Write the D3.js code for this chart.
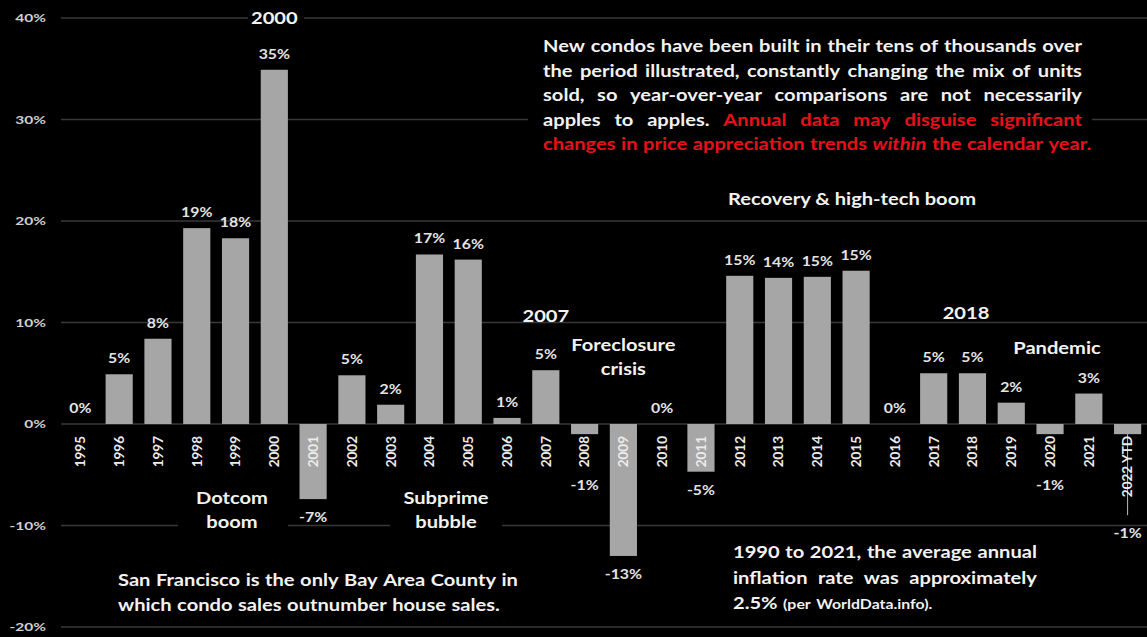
<!DOCTYPE html>
<html>
<head>
<meta charset="utf-8">
<script src="https://cdn.jsdelivr.net/npm/d3@7/dist/d3.min.js"></script>
<style>
  html, body { margin: 0; padding: 0; background: #000; }
  svg { display: block; }
  text { font-family: Lato, "Open Sans", sans-serif; font-weight: 700; }
</style>
</head>
<body>
<svg id="chart" width="1147" height="637"></svg>
<script>
// San Francisco condo median price, year-over-year change (%)
const years = ["1995","1996","1997","1998","1999","2000","2001","2002","2003","2004",
  "2005","2006","2007","2008","2009","2010","2011","2012","2013","2014","2015","2016",
  "2017","2018","2019","2020","2021","2022 YTD"];
const changes = [0, 4.9, 8.4, 19.3, 18.3, 34.9, -7.4, 4.8, 1.9, 16.7,
  16.2, 0.6, 5.3, -1.0, -13.0, 0, -4.7, 14.6, 14.4, 14.5, 15.1, 0,
  5.0, 5.0, 2.1, -1.0, 3.0, -1.0];
const yTicks = [-20, -10, 0, 10, 20, 30, 40];

const W = 1147, H = 637;
const SX = 1.22;   // horizontal stretch applied to the (wide) slide lettering
const svg = d3.select("#chart");
svg.append("rect").attr("width", W).attr("height", H).attr("fill", "#000");

const x = d3.scaleBand().domain(years).range([61, 1147])
  .paddingInner(0.3).paddingOuter(0.15);
const y = d3.scaleLinear().domain([-20, 40]).range([627, 18]);
const cx = d => x(d) + x.bandwidth() / 2;
const pct = v => { const r = Math.round(v); return (r === 0 ? 0 : r) + "%"; };

// gridlines
svg.append("g").selectAll("line").data(yTicks).join("line")
  .attr("x1", 61).attr("x2", W)
  .attr("y1", d => y(d)).attr("y2", d => y(d))
  .attr("stroke", "#383838").attr("stroke-width", 1.3);

// y axis labels
const yAxis = d3.axisLeft(y).tickValues(yTicks).tickFormat(d => d + "%").tickSize(0).tickPadding(0);
const ya = svg.append("g").attr("transform", "translate(46,0)").call(yAxis);
ya.select(".domain").remove();
ya.selectAll("text").attr("x", 0).attr("transform", "scale(1.35,1)")
  .attr("fill", "#d0d0d0").style("font-size", "11.5px")
  .style("font-family", "Lato, sans-serif").style("font-weight", 700);

// bars
const rows = years.map((yr, i) => ({ yr, v: changes[i] }));
svg.append("g").selectAll("rect").data(rows.filter(d => d.v !== 0)).join("rect")
  .attr("x", d => x(d.yr)).attr("width", x.bandwidth())
  .attr("y", d => y(Math.max(0, d.v)))
  .attr("height", d => Math.abs(y(d.v) - y(0)))
  .attr("fill", "#a6a6a6");

const leaderLayer = svg.append("g");

// category labels (rotated)
const xAxis = d3.axisBottom(x).tickSize(0).tickPadding(0);
const xa = svg.append("g").attr("transform", `translate(0,${y(0) + 12})`).call(xAxis);
xa.select(".domain").remove();
xa.selectAll("text")
  .attr("transform", "rotate(-90)")
  .attr("text-anchor", "end").attr("x", 0).attr("y", 0).attr("dy", "0.36em")
  .attr("fill", "#ececec").style("font-size", "13.5px")
  .style("font-family", "Lato, sans-serif").style("font-weight", 700);
const tickEnd = {};
xa.selectAll(".tick").each(function(d) {
  const t = d3.select(this).select("text").node();
  tickEnd[d] = y(0) + 12 + t.getComputedTextLength();
});

// leader line running through the YTD label
const last = years[years.length - 1];
tickEnd[last] += 18;
leaderLayer.append("line").attr("x1", cx(last)).attr("x2", cx(last))
  .attr("y1", y(-1.0)).attr("y2", tickEnd[last])
  .attr("stroke", "#bdbdbd").attr("stroke-width", 1);

// value labels
svg.append("g").selectAll("text").data(rows).join("text")
  .attr("transform", d => `translate(${cx(d.yr)},${d.v >= 0 ? y(d.v) - 11 : Math.max(y(d.v), tickEnd[d.yr]) + 23}) scale(${SX},1)`)
  .attr("text-anchor", "middle").attr("fill", "#e4e4e4").style("font-size", "13px")
  .text(d => pct(d.v));

// annotation text helpers
function block(lines, x0, x1, y0, lh, size, justify) {
  const g = svg.append("g");
  lines.forEach((segs, li) => {
    const words = [];
    segs.forEach(s => s.t.split(" ").filter(w => w).forEach(w => words.push({ w, ...s })));
    const nodes = words.map(wd => {
      const t = g.append("text")
        .attr("fill", wd.c || "#f2f2f2")
        .style("font-size", (wd.s || size) + "px")
        .style("font-style", wd.i ? "italic" : "normal")
        .text(wd.w);
      return { t, w: t.node().getComputedTextLength() * SX };
    });
    const total = d3.sum(nodes, n => n.w);
    const doJust = justify && li < lines.length - 1 && nodes.length > 1;
    const gap = doJust ? (x1 - x0 - total) / (nodes.length - 1) : size * 0.27 * SX;
    let xp = x0;
    nodes.forEach(n => {
      n.t.attr("transform", `translate(${xp},${y0 + li * lh}) scale(${SX},1)`);
      xp += n.w + gap;
    });
  });
  return g;
}
function centered(lines, xc, y0, lh, size) {
  lines.forEach((l, i) => svg.append("text")
    .attr("transform", `translate(${xc},${y0 + i * lh}) scale(${SX},1)`)
    .attr("text-anchor", "middle").attr("fill", "#f2f2f2").style("font-size", size + "px").text(l));
}
function blank(x0, y0, w, h) {
  svg.append("rect").attr("x", x0).attr("y", y0).attr("width", w).attr("height", h).attr("fill", "#000");
}

const RED = "#e8101a";
const FS = 16.5;

// top-right note
blank(528, 28, 564, 130);
block([
  [{ t: "New condos have been built in their tens of thousands over" }],
  [{ t: "the period illustrated, constantly changing the mix of units" }],
  [{ t: "sold, so year-over-year comparisons are not necessarily" }],
  [{ t: "apples to apples." }, { t: "Annual data may disguise significant", c: RED }],
  [{ t: "changes in price appreciation trends", c: RED }, { t: "within", c: RED, i: true },
   { t: "the calendar year.", c: RED }]
], 543, 1082, 52, 24.5, FS, true);

// period labels
blank(248, 6, 56, 24);
centered(["2000"], cx("2000"), 24, 24, FS);
centered(["Recovery & high-tech boom"], 852, 205, 24, FS);
centered(["2007"], cx("2007"), 322, 24, FS);
centered(["Foreclosure", "crisis"], cx("2009"), 351, 24, FS);
centered(["2018"], 966, 319, 24, FS);
centered(["Pandemic"], 1057, 354, 24, FS);
blank(178, 486, 110, 48);
centered(["Dotcom", "boom"], 232, 504, 24, FS);
blank(390, 486, 112, 48);
centered(["Subprime", "bubble"], 446, 504, 24, FS);

// bottom notes
block([
  [{ t: "San Francisco is the only Bay Area County in" }],
  [{ t: "which condo sales outnumber house sales." }]
], 118, 530, 586, 24.5, FS, false);

block([
  [{ t: "1990 to 2021, the average annual" }],
  [{ t: "inflation rate was approximately" }],
  [{ t: "2.5%" }, { t: "(per WorldData.info).", s: 13 }]
], 733, 1037, 558, 25.5, FS, true);
</script>
</body>
</html>
